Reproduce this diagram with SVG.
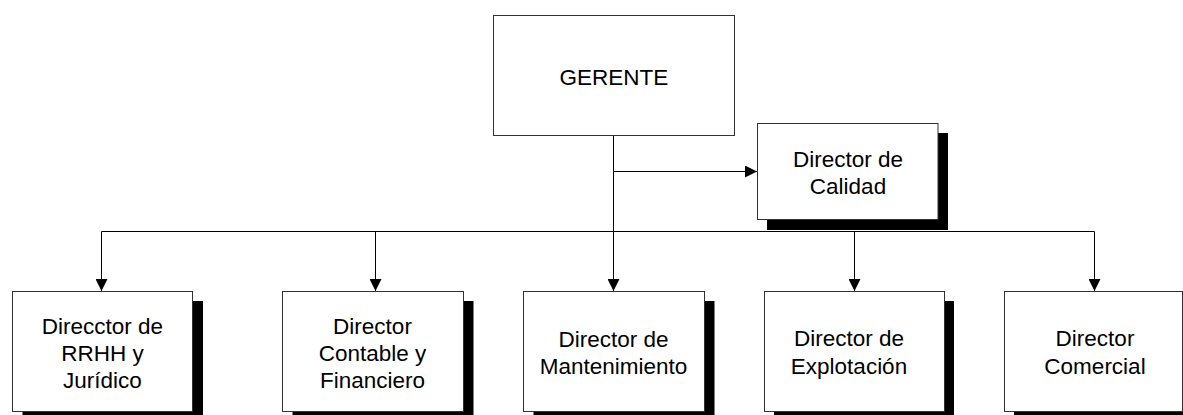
<svg xmlns="http://www.w3.org/2000/svg" width="1183" height="415" viewBox="0 0 1183 415">
<style>
.box{fill:#fff;stroke:#333;stroke-width:1}
.shadow{fill:#000}
.lbl{font-family:"Liberation Sans",Arial,sans-serif;font-size:22.5px;fill:#000;text-anchor:middle}
.conn{fill:none;stroke:#000;stroke-width:1}
</style>
<defs>
<marker id="arr" viewBox="0 0 12 12" refX="12" refY="6" markerWidth="12" markerHeight="12" markerUnits="userSpaceOnUse" orient="auto">
<path d="M0,0 L12,6 L0,12 z" fill="#000"/>
</marker>
</defs>
<rect width="1183" height="415" fill="#fff"/>
<g id="connectors">
<line class="conn" x1="613.5" y1="135" x2="613.5" y2="231.5"/>
<line class="conn" x1="613.5" y1="171.5" x2="757" y2="171.5" marker-end="url(#arr)"/>
<line class="conn" x1="101.5" y1="231.5" x2="1094.5" y2="231.5"/>
<line class="conn" x1="101.5" y1="231.5" x2="101.5" y2="291" marker-end="url(#arr)"/>
<line class="conn" x1="375.5" y1="231.5" x2="375.5" y2="291" marker-end="url(#arr)"/>
<line class="conn" x1="613.5" y1="231.5" x2="613.5" y2="291" marker-end="url(#arr)"/>
<line class="conn" x1="854.5" y1="231.5" x2="854.5" y2="291" marker-end="url(#arr)"/>
<line class="conn" x1="1094.5" y1="231.5" x2="1094.5" y2="291" marker-end="url(#arr)"/>
</g>
<g id="gerente">
<rect class="box" x="493.5" y="15.5" width="241" height="120"/>
<text class="lbl" x="614" y="85">GERENTE</text>
</g>
<g id="calidad">
<rect class="shadow" x="767" y="133" width="181" height="97"/>
<rect class="box" x="757.5" y="123.5" width="180.5" height="96"/>
<text class="lbl" x="848" y="167">Director de</text>
<text class="lbl" x="848" y="194">Calidad</text>
</g>
<g id="rrhh">
<rect class="shadow" x="22.5" y="301" width="180.5" height="121"/>
<rect class="box" x="12.5" y="291.5" width="180" height="120"/>
<text class="lbl" x="102.5" y="334">Direcctor de</text>
<text class="lbl" x="102.5" y="361">RRHH y</text>
<text class="lbl" x="102.5" y="388">Jurídico</text>
</g>
<g id="contable">
<rect class="shadow" x="292.5" y="301" width="181" height="121"/>
<rect class="box" x="282.5" y="291.5" width="181" height="120"/>
<text class="lbl" x="372.5" y="334">Director</text>
<text class="lbl" x="372.5" y="361">Contable y</text>
<text class="lbl" x="372.5" y="388">Financiero</text>
</g>
<g id="mantenimiento">
<rect class="shadow" x="533.5" y="301" width="181" height="121"/>
<rect class="box" x="523.5" y="291.5" width="181" height="120"/>
<text class="lbl" x="613.5" y="347">Director de</text>
<text class="lbl" x="613.5" y="374">Mantenimiento</text>
</g>
<g id="explotacion">
<rect class="shadow" x="774" y="301" width="180" height="121"/>
<rect class="box" x="764.5" y="291.5" width="180" height="120"/>
<text class="lbl" x="849" y="346">Director de</text>
<text class="lbl" x="849" y="374">Explotación</text>
</g>
<g id="comercial">
<rect class="shadow" x="1014" y="301" width="180" height="121"/>
<rect class="box" x="1004.5" y="291.5" width="178" height="120"/>
<text class="lbl" x="1095" y="346">Director</text>
<text class="lbl" x="1095" y="374">Comercial</text>
</g>
</svg>
